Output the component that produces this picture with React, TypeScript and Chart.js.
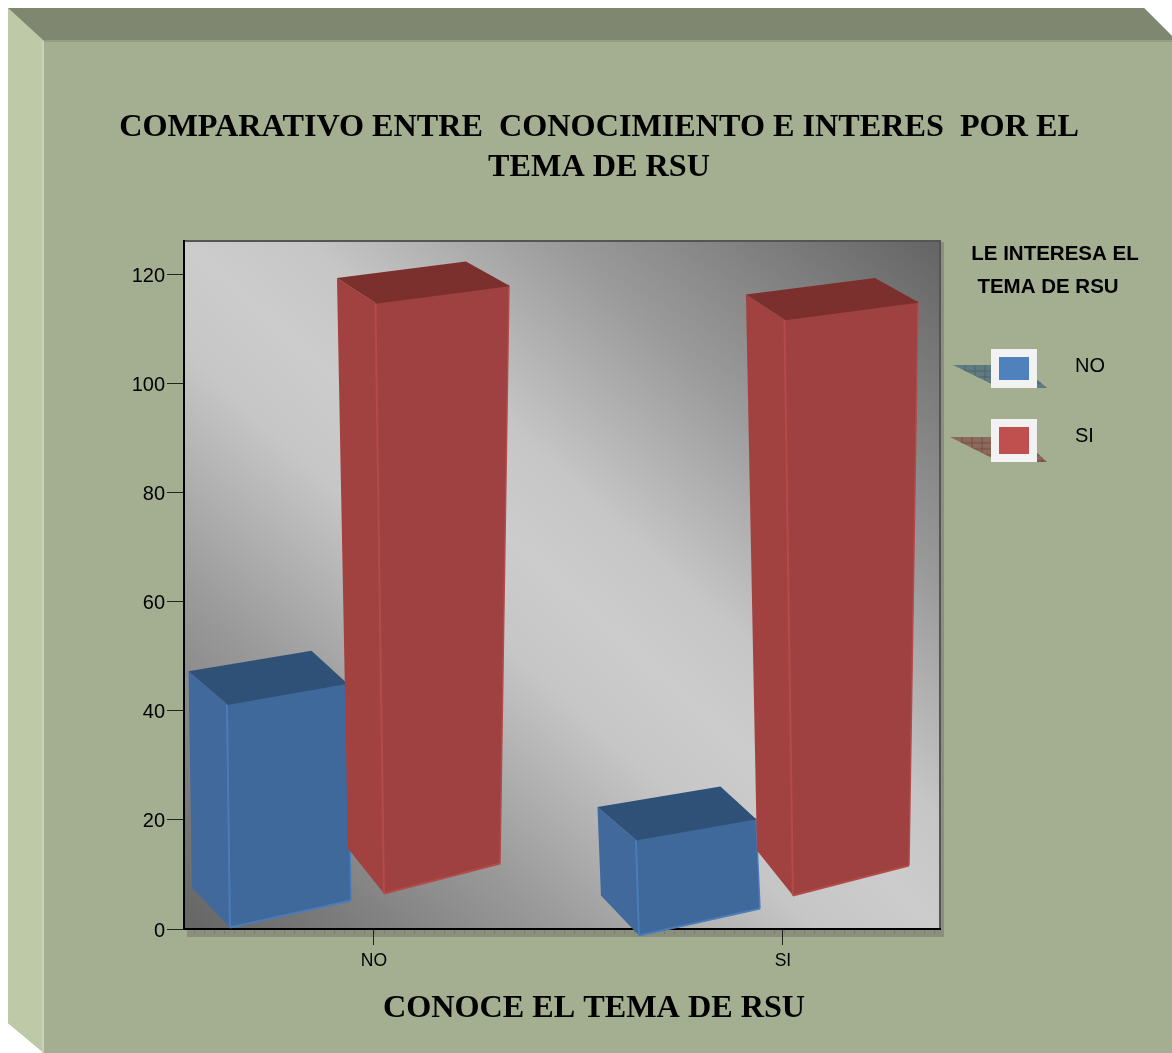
import React, { useEffect, useRef } from "react";
import { Chart, registerables } from "chart.js";

Chart.register(...registerables);

const categories = ["NO", "SI"];
const categoryPositions = [0, 1];
const seriesNames = ["NO", "SI"];
const seriesNoValues = [47.3, 22.4];
const seriesSiValues = [119.4, 116.4];
const titleLines = ["COMPARATIVO ENTRE  CONOCIMIENTO E INTERES  POR EL", "TEMA DE RSU"];
const axisTitle = "CONOCE EL TEMA DE RSU";
const legendTitle = ["LE INTERESA EL", "TEMA DE RSU"];

const W = 1172;
const H = 1053;
const SERIF = '"Liberation Serif", serif';
const SANS = '"Liberation Sans", sans-serif';

// Per-series look of the projected box, relative to the bar element.
const boxStyles = [
  {
    fill: "#3f689b", side: "#41699c", top: "#2f5178", edge: "#4a7cb8", legend: "#4f81bd",
    frontDx: 3, frontDy: 33, topW: 120, topRise: 21, botDx: 3, botW: 121, botRise: 27,
    baseLift: 1, baseSlope: 8 / 409, backTopDx: 35.5, backRise: 20.5, backBotDx: 38, backBotRise: 40,
  },
  {
    fill: "#9e4140", side: "#a14241", top: "#7b302e", edge: "#b34b49", legend: "#c0504d",
    frontDx: 1.5, frontDy: 25, topW: 133.5, topRise: 17.5, botDx: 8.5, botW: 116, botRise: 30,
    baseLift: 35, baseSlope: 2 / 409, backTopDx: 43, backRise: 16.5, backBotDx: 36, backBotRise: 45,
  },
];

function quad(ctx: CanvasRenderingContext2D, pts: number[][], fill: string) {
  ctx.beginPath();
  pts.forEach((p, i) => (i ? ctx.lineTo(p[0], p[1]) : ctx.moveTo(p[0], p[1])));
  ctx.closePath();
  ctx.fillStyle = fill;
  ctx.fill();
}

function seg(ctx: CanvasRenderingContext2D, a: number[], b: number[], color: string, w = 2) {
  ctx.beginPath();
  ctx.moveTo(a[0], a[1]);
  ctx.lineTo(b[0], b[1]);
  ctx.strokeStyle = color;
  ctx.lineWidth = w;
  ctx.stroke();
}

const framePlugin = {
  id: "frame",
  beforeDraw(chart: any) {
    const ctx: CanvasRenderingContext2D = chart.ctx;
    const { left, right, top, bottom } = chart.chartArea;
    ctx.save();
    ctx.fillStyle = "#ffffff";
    ctx.fillRect(0, 0, W, H);
    quad(ctx, [[8, 8], [1144, 8], [1172, 36], [1172, 1053], [44, 1053], [8, 1023]], "#a4ae91");
    quad(ctx, [[8, 8], [1144, 8], [1172, 36], [1172, 41], [44, 41]], "#7f8770");
    quad(ctx, [[8, 8], [44, 41], [44, 1053], [8, 1023]], "#bdc9a7");
    ctx.fillStyle = "#949c84";
    ctx.fillRect(44, 40, W - 44, 2);
    ctx.fillStyle = "#c8d2b4";
    ctx.fillRect(42, 41, 2, H - 41);

    // shadow strip beyond the plot
    ctx.fillStyle = "#8b8f7c";
    ctx.fillRect(right, top + 1, 4, bottom - top + 6);
    ctx.fillRect(left + 3, bottom + 1, right - left + 1, 7);
    ctx.strokeStyle = "#7b7e6e";
    ctx.lineWidth = 1;
    for (let x = left + 10; x < right + 4; x += 10) {
      ctx.beginPath();
      ctx.moveTo(x + 0.5, bottom + 1);
      ctx.lineTo(x + 0.5, bottom + 5);
      ctx.stroke();
    }

    // plot background
    const cx = (left + right) / 2;
    const cy = (top + bottom) / 2;
    const g = ctx.createLinearGradient(cx - 342.6, cy + 376.6, cx + 342.6, cy - 376.6);
    g.addColorStop(0, "#646464");
    g.addColorStop(0.25, "#9a9a9a");
    g.addColorStop(0.42, "#c6c6c6");
    g.addColorStop(0.5, "#cccccc");
    g.addColorStop(0.58, "#c6c6c6");
    g.addColorStop(0.75, "#9a9a9a");
    g.addColorStop(1, "#646464");
    ctx.fillStyle = g;
    ctx.fillRect(left, top, right - left, bottom - top);
    ctx.strokeStyle = "#555555";
    ctx.lineWidth = 2;
    ctx.beginPath();
    ctx.moveTo(left, top);
    ctx.lineTo(right, top);
    ctx.lineTo(right, bottom);
    ctx.stroke();
    ctx.restore();
  },
  beforeDatasetDraw() {
    return false;
  },
  afterDatasetsDraw(chart: any) {
    const ctx: CanvasRenderingContext2D = chart.ctx;
    ctx.save();
    chart.data.datasets.forEach((_: any, di: number) => {
      const s = boxStyles[di];
      const meta = chart.getDatasetMeta(di);
      const firstLeft = meta.data[0].x - meta.data[0].width / 2;
      meta.data.forEach((el: any) => {
        const l = el.x - el.width / 2;
        const t = el.y;
        const b = el.base;
        const baseY = b - s.baseLift + (l - firstLeft) * s.baseSlope;
        const ftl = [l + s.frontDx, t + s.frontDy];
        const ftr = [ftl[0] + s.topW, ftl[1] - s.topRise];
        const fbl = [ftl[0] + s.botDx, baseY];
        const fbr = [fbl[0] + s.botW, baseY - s.botRise];
        const btl = [ftl[0] - 38.5, t];
        const btr = [ftr[0] - s.backTopDx, t - s.backRise];
        const bbl = [fbl[0] - s.backBotDx, baseY - s.backBotRise];
        quad(ctx, [btl, ftl, fbl, bbl], s.side);
        quad(ctx, [btl, btr, ftr, ftl], s.top);
        quad(ctx, [ftl, ftr, fbr, fbl], s.fill);
        seg(ctx, ftl, fbl, s.edge);
        seg(ctx, fbl, fbr, s.edge);
        seg(ctx, ftr, fbr, s.edge, 1.5);
        seg(ctx, ftl, ftr, s.top, 1.5);
      });
    });
    ctx.restore();
  },
  afterDraw(chart: any) {
    const ctx: CanvasRenderingContext2D = chart.ctx;
    ctx.save();
    ctx.fillStyle = "#000";
    ctx.textAlign = "center";
    ctx.textBaseline = "middle";
    ctx.font = `bold 32.2px ${SERIF}`;
    ctx.fillText(titleLines[0], 599, 128);
    ctx.fillText(titleLines[1], 599, 168);
    ctx.fillText(axisTitle, 594, 1009);
    ctx.font = `bold 20.5px ${SANS}`;
    ctx.fillText(legendTitle[0], 1055, 254);
    ctx.fillText(legendTitle[1], 1048, 287);

    // legend
    const rows = [
      { y: 349, h: 39, shadowY: 365, shadowX: 953, shadow: "#5f7a80", grid: "#3f5a68", textY: 366 },
      { y: 419, h: 43, shadowY: 437, shadowX: 950, shadow: "#8a6a5c", grid: "#6e3a34", textY: 436 },
    ];
    rows.forEach((r, i) => {
      const bottom = r.y + r.h;
      const corners = [[r.shadowX, r.shadowY], [1020, r.shadowY], [1047, bottom], [1000, bottom]];
      quad(ctx, corners, r.shadow);
      ctx.save();
      ctx.beginPath();
      corners.forEach((p, k) => (k ? ctx.lineTo(p[0], p[1]) : ctx.moveTo(p[0], p[1])));
      ctx.closePath();
      ctx.clip();
      ctx.strokeStyle = r.grid;
      ctx.lineWidth = 0.6;
      for (let x = r.shadowX + 12; x < 1047; x += 10) {
        ctx.beginPath();
        ctx.moveTo(x, r.shadowY);
        ctx.lineTo(x, bottom);
        ctx.stroke();
      }
      for (let y = r.shadowY + 6; y < bottom; y += 6) {
        ctx.beginPath();
        ctx.moveTo(r.shadowX, y);
        ctx.lineTo(1047, y);
        ctx.stroke();
      }
      ctx.restore();
      ctx.fillStyle = "#f2f2f2";
      ctx.fillRect(991, r.y, 46, r.h);
      ctx.fillStyle = boxStyles[i].legend;
      ctx.fillRect(999, r.y + 8, 30, r.h - 16);
      ctx.fillStyle = "#000";
      ctx.textAlign = "left";
      ctx.font = `20px ${SANS}`;
      ctx.fillText(seriesNames[i], 1075, r.textY);
    });
    ctx.restore();
  },
};

// Moves the y tick labels a little below their ticks, as in the reference.
function nudgeLabels(scale: any) {
  const original = scale.getLabelItems.bind(scale);
  scale.getLabelItems = (area: any) =>
    original(area).map((it: any) => ({
      ...it,
      options: { ...it.options, translation: [it.options.translation[0], it.options.translation[1] + 1] },
    }));
}

export default function App() {
  const ref = useRef<HTMLCanvasElement>(null);
  useEffect(() => {
    const chart = new Chart(ref.current as HTMLCanvasElement, {
      type: "bar",
      data: {
        datasets: [
          {
            label: seriesNames[0],
            data: categoryPositions.map((x, i) => ({ x, y: seriesNoValues[i] })),
            backgroundColor: boxStyles[0].fill,
          },
          {
            label: seriesNames[1],
            data: categoryPositions.map((x, i) => ({ x, y: seriesSiValues[i] })),
            backgroundColor: boxStyles[1].fill,
          },
        ],
      },
      options: {
        animation: false,
        responsive: false,
        events: [],
        categoryPercentage: 0.7335,
        barPercentage: 1,
        layout: { padding: { top: 241, right: 232, bottom: 74, left: 0 } },
        plugins: { legend: { display: false }, title: { display: false }, tooltip: { enabled: false } },
        scales: {
          x: {
            type: "linear",
            offset: false,
            min: -0.4645,
            max: 1.384,
            afterFit: (s: any) => { s.height = 50; },
            border: { color: "#000", width: 2 },
            grid: { offset: false, drawOnChartArea: false, tickLength: 16, color: "#222" },
            ticks: {
              stepSize: 1,
              includeBounds: false,
              autoSkip: false,
              maxRotation: 0,
              padding: 6,
              color: "#000",
              font: { family: SANS, size: 17.5 },
              callback: (v: any) => categories[v],
            },
          },
          y: {
            min: 0,
            max: 126.2,
            afterFit: (s: any) => { s.width = 184; },
            afterUpdate: nudgeLabels,
            border: { color: "#000", width: 2 },
            grid: { drawOnChartArea: false, tickLength: 17, color: "#222" },
            ticks: {
              stepSize: 20,
              includeBounds: false,
              padding: 2,
              color: "#000",
              font: { family: SANS, size: 20 },
            },
          },
        },
      } as any,
      plugins: [framePlugin as any],
    });
    return () => chart.destroy();
  }, []);
  return (
    <canvas
      ref={ref}
      width={W}
      height={H}
      style={{ position: "absolute", left: 0, top: 0, display: "block" }}
    />
  );
}
